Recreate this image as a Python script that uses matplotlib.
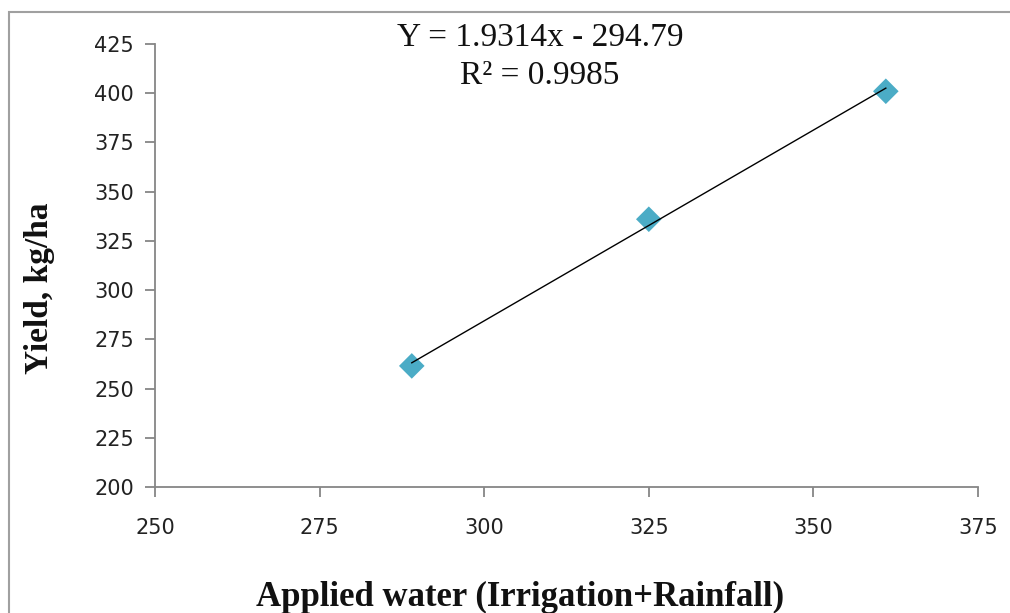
import numpy as np
import matplotlib
matplotlib.use('Agg')
import matplotlib.pyplot as plt
from matplotlib.patches import Rectangle

# data
applied_water = [289, 325, 361]
yield_kg_ha = [261.5, 336, 401]
x_ticks = [250, 275, 300, 325, 350, 375]
y_ticks = [200, 225, 250, 275, 300, 325, 350, 375, 400, 425]
equation_text = 'Y = 1.9314x - 294.79'
r2_text = 'R² = 0.9985'

fig = plt.figure(figsize=(10.10, 6.13), dpi=100)
fig.patch.set_facecolor('white')

# outer chart border (runs off the right and bottom of the picture)
fig.patches.append(Rectangle((9 / 1010, -0.1), 1.1, 1 - 12 / 613 + 0.1, transform=fig.transFigure,
                             fill=False, edgecolor='#a0a0a0', linewidth=1.5))

ax = fig.add_axes([155 / 1010, 1 - 487 / 613, (978 - 155) / 1010, (487 - 44) / 613])

ax.scatter(applied_water, yield_kg_ha, marker='D', s=170, color='#4bacc6', edgecolors='none', zorder=2)

slope, intercept = np.polyfit(applied_water, yield_kg_ha, 1)
fit_x = np.array([min(applied_water), max(applied_water)])
ax.plot(fit_x, slope * fit_x + intercept, color='black', linewidth=1, zorder=3)

ax.set_xlim(250, 375)
ax.set_ylim(200, 425)
ax.set_xticks(x_ticks)
ax.set_yticks(y_ticks)

for side in ['top', 'right']:
    ax.spines[side].set_visible(False)
for side in ['left', 'bottom']:
    ax.spines[side].set_color('#868686')
    ax.spines[side].set_linewidth(1.3)

ax.tick_params(axis='both', direction='out', length=7, width=1.3, color='#868686',
               labelsize=15, labelcolor='#222222')
ax.tick_params(axis='x', pad=15)
ax.tick_params(axis='y', pad=8)

fig.text(540 / 1010, 1 - 38 / 613, equation_text, ha='center', va='center',
         fontsize=24, family='Liberation Serif', color='#111111')
fig.text(540 / 1010, 1 - 76 / 613, r2_text, ha='center', va='center',
         fontsize=24, family='Liberation Serif', color='#111111')

fig.text(520 / 1010, 1 - 597 / 613, 'Applied water (Irrigation+Rainfall)', ha='center', va='center',
         fontsize=25, family='Liberation Serif', fontweight='bold', color='#111111')
fig.text(40 / 1010, 1 - 288 / 613, 'Yield, kg/ha', ha='center', va='center', rotation=90,
         fontsize=24, family='Liberation Serif', fontweight='bold', color='#111111')

fig.savefig('out.png', dpi=100)
